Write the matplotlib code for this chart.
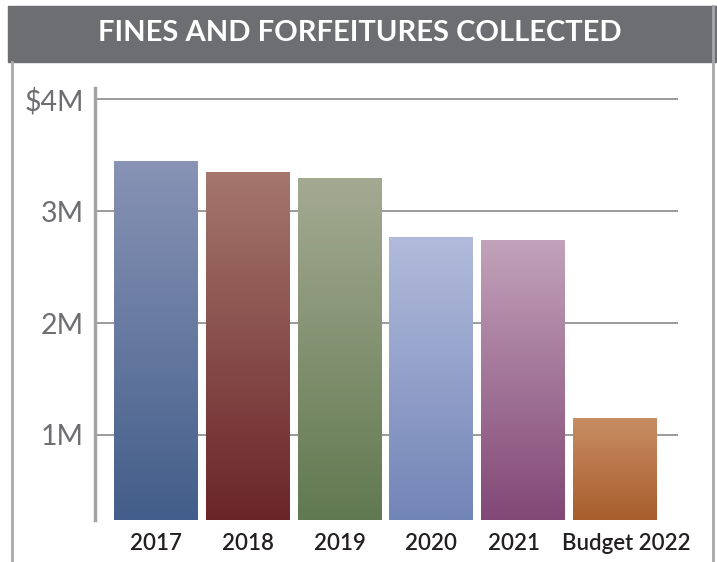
import matplotlib.pyplot as plt
import matplotlib.transforms as mtransforms
import numpy as np
from matplotlib.colors import LinearSegmentedColormap
from matplotlib.patches import Rectangle
from matplotlib.lines import Line2D

# Data (millions of dollars)
years = ["2017", "2018", "2019", "2020", "2021", "Budget 2022"]
values = [3.45, 3.35, 3.30, 2.77, 2.74, 1.15]

# gradient colours per bar: (top, bottom)
top_colors = ["#8893b5", "#a5776d", "#a4aa92", "#b2bbdb", "#c2a2ba", "#c88d63"]
bottom_colors = ["#435e8a", "#6a2528", "#617950", "#7285b7", "#824876", "#a85d2c"]

plt.rcParams["font.family"] = ["Lato", "DejaVu Sans"]

fig = plt.figure(figsize=(7.17, 5.62), dpi=100)
ax = fig.add_axes([95 / 717, 1 - 520 / 562, (678 - 95) / 717, (520 - 88) / 562])

ymin, ymax = 0.24, 4.1
x = np.arange(len(years))
bars = ax.bar(x, values, width=0.913, color="none", edgecolor="none", zorder=3)

# fill each bar with a vertical gradient
grad = np.linspace(0, 1, 256).reshape(-1, 1)
for bar, c_top, c_bot in zip(bars, top_colors, bottom_colors):
    cmap = LinearSegmentedColormap.from_list("g", [c_bot, c_top])
    x0 = bar.get_x()
    x1 = x0 + bar.get_width()
    im = ax.imshow(grad, cmap=cmap, origin="lower", aspect="auto",
                   extent=[x0, x1, ymin, bar.get_height()], zorder=3)
    im.set_clip_path(bar)

ax.set_xlim(-0.663, 5.685)
ax.set_ylim(ymin, ymax)

# grid lines
ax.set_yticks([1, 2, 3, 4])
ax.set_yticklabels(["1M", "2M", "3M", "$4M"])
ax.yaxis.grid(True, color="#8a8a8a", linewidth=1.2, zorder=1)
ax.set_axisbelow(True)

for s in ["top", "right", "bottom"]:
    ax.spines[s].set_visible(False)
ax.spines["left"].set_color("#a3a3a3")
ax.spines["left"].set_linewidth(2.5)

ax.tick_params(axis="y", length=0, pad=8, labelsize=20.5, labelcolor="#6d6e71")
ax.tick_params(axis="x", length=0, pad=9, labelsize=16, labelcolor="#231f20")
ax.set_xticks(x)
ax.set_xticklabels(years, fontweight="semibold")

# the last two labels sit a little off-centre in the original
label_shift = {4: -9, 5: 11}
for i, lab in enumerate(ax.get_xticklabels()):
    if i in label_shift:
        off = mtransforms.ScaledTranslation(label_shift[i] / 100, 0, fig.dpi_scale_trans)
        lab.set_transform(lab.get_transform() + off)

# title band
fig.patches.append(Rectangle((8 / 717, 1 - 62 / 562), 1, 56 / 562,
                             transform=fig.transFigure, color="#6d6e71", zorder=0))
fig.text(360 / 717, 1 - 33 / 562, "FINES AND FORFEITURES COLLECTED",
         color="white", fontsize=21, fontweight="bold", ha="center", va="center")

# outer frame lines
fig.lines.append(Line2D([12 / 717, 12 / 717], [0, 1 - 62 / 562],
                        transform=fig.transFigure, color="#a8a8a8", linewidth=2))
fig.lines.append(Line2D([713 / 717, 713 / 717], [0, 1 - 6 / 562],
                        transform=fig.transFigure, color="#a8a8a8", linewidth=2))

fig.savefig("out.png", dpi=100)
